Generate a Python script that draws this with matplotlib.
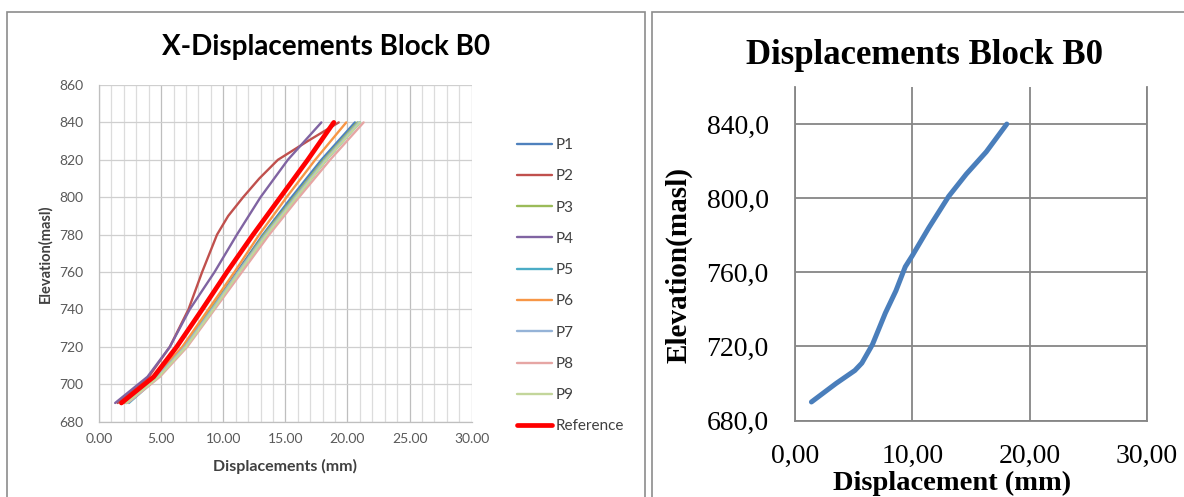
import matplotlib
matplotlib.use("Agg")
import matplotlib.pyplot as plt
from matplotlib.ticker import MultipleLocator, FuncFormatter, FixedLocator
from matplotlib.patches import Rectangle

# ---------------- data ----------------
# Left chart: X-displacements (mm) of each profile against elevation (masl)
elev = [690, 704, 720, 740, 760, 780, 800, 820, 840]
p1 = [2.2, 4.7, 6.9, 9.0, 11.1, 13.2, 15.5, 17.9, 20.6]
p3 = [2.1, 4.6, 6.8, 9.0, 11.2, 13.3, 15.7, 18.1, 20.8]
p4 = [1.3, 3.9, 5.7, 7.3, 9.3, 11.1, 13.0, 15.2, 17.9]
p5 = [2.4, 4.8, 7.0, 9.1, 11.3, 13.5, 15.9, 18.3, 21.0]
p6 = [2.0, 4.5, 6.7, 8.8, 10.9, 12.9, 15.1, 17.4, 19.9]
p7 = [2.2, 4.7, 6.9, 9.1, 11.2, 13.4, 15.8, 18.2, 20.9]
p8 = [2.3, 4.9, 7.1, 9.3, 11.5, 13.7, 16.1, 18.6, 21.3]
p9 = [2.2, 4.8, 7.0, 9.2, 11.3, 13.5, 15.9, 18.3, 21.0]
reference = [1.8, 4.4, 6.25, 8.3, 10.3, 12.4, 14.6, 16.8, 18.9]

# P2 bends more sharply, so it carries its own elevations
elev_p2 = [690, 704, 720, 740, 760, 780, 790, 800, 810, 820, 830, 840]
p2 = [1.5, 4.0, 5.7, 7.2, 8.3, 9.5, 10.4, 11.6, 12.9, 14.4, 16.8, 19.3]

series_names = ["P1", "P2", "P3", "P4", "P5", "P6", "P7", "P8", "P9", "Reference"]
series_colors = ["#4F81BD", "#C0504D", "#9BBB59", "#8064A2", "#4BACC6",
                 "#F79646", "#95B3D7", "#E6A6A4", "#C3D69B", "#FF0000"]

# Right chart: displacement of block B0 against elevation
elev_b0 = [690, 700, 707, 711, 721, 738, 750, 763, 769, 784, 801, 813, 825, 840]
disp_b0 = [1.4, 3.5, 5.1, 5.7, 6.6, 7.7, 8.6, 9.4, 10.0, 11.4, 13.1, 14.6, 16.3, 18.05]

W, H = 1184, 497
fig = plt.figure(figsize=(W / 100, H / 100), dpi=100)
fig.patch.set_facecolor("white")


def fx(px):
    return px / W


def fy(py):
    return 1 - py / H


# panel frames
fig.patches.append(Rectangle((fx(7), fy(520)), fx(645 - 7), fy(12) - fy(520),
                             transform=fig.transFigure, fill=False,
                             edgecolor="#8C8C8C", lw=1.2))
fig.patches.append(Rectangle((fx(652), fy(520)), fx(1200 - 652), fy(12) - fy(520),
                             transform=fig.transFigure, fill=False,
                             edgecolor="#8C8C8C", lw=1.2))

# ---------------- left chart ----------------
ax1 = fig.add_axes([fx(99), fy(421.7), fx(471.7 - 99), fy(85) - fy(421.7)])
ax1.set_xlim(0, 30)
ax1.set_ylim(680, 860)
ax1.xaxis.set_major_locator(MultipleLocator(5))
ax1.xaxis.set_minor_locator(MultipleLocator(1))
ax1.yaxis.set_major_locator(MultipleLocator(20))
ax1.xaxis.set_major_formatter(FuncFormatter(lambda v, p: f"{v:.2f}"))
ax1.yaxis.set_major_formatter(FuncFormatter(lambda v, p: f"{v:.0f}"))
ax1.grid(True, which="minor", axis="x", color="#DCDCDC", lw=0.9)
ax1.grid(True, which="major", axis="x", color="#BEBEBE", lw=0.9)
ax1.grid(True, which="major", axis="y", color="#CFCFCF", lw=0.9)
ax1.set_axisbelow(True)
for s in ["top", "right"]:
    ax1.spines[s].set_visible(False)
for s in ["left", "bottom"]:
    ax1.spines[s].set_color("#BFBFBF")
    ax1.spines[s].set_linewidth(0.9)
ax1.tick_params(which="both", length=0, labelsize=10, labelcolor="#595959")
ax1.tick_params(axis="x", pad=8)
ax1.tick_params(axis="y", pad=11)
for lab in ax1.get_xticklabels() + ax1.get_yticklabels():
    lab.set_fontfamily("Lato")

left_series = [(p1, elev), (p2, elev_p2), (p3, elev), (p4, elev), (p5, elev),
               (p6, elev), (p7, elev), (p8, elev), (p9, elev), (reference, elev)]
handles = []
for (xs, ys), name, col in zip(left_series, series_names, series_colors):
    lw = 3.4 if name == "Reference" else 1.7
    h, = ax1.plot(xs, ys, color=col, lw=lw, label=name,
                  solid_joinstyle="round", solid_capstyle="round")
    handles.append(h)

fig.text(fx(326), fy(47), "X-Displacements Block B0", fontfamily="Lato",
         fontweight="bold", fontsize=20, ha="center", va="center")
ax1.set_xlabel("Displacements (mm)", fontfamily="Lato", fontweight="bold",
               fontsize=11.5, color="#404040")
ax1.xaxis.set_label_coords(0.499, -0.112)
ax1.set_ylabel("Elevation(masl)", fontfamily="Lato", fontweight="bold",
               fontsize=10.5, color="#404040")
ax1.yaxis.set_label_coords(-0.125, 0.50)

fig.legend(handles=handles, labels=series_names, loc="upper left",
           bbox_to_anchor=(fx(517), fy(138)), frameon=False,
           borderpad=0, borderaxespad=0, handlelength=2.3, handletextpad=0.2,
           labelspacing=1.13, prop={"family": "Lato", "size": 11},
           labelcolor="#404040")

# ---------------- right chart ----------------
ax2 = fig.add_axes([fx(795), fy(420.5), fx(1147 - 795), fy(87) - fy(420.5)])
ax2.set_xlim(0, 30)
ax2.set_ylim(680, 860)
ax2.xaxis.set_major_locator(MultipleLocator(10))
ax2.yaxis.set_major_locator(FixedLocator([680, 720, 760, 800, 840]))
ax2.xaxis.set_major_formatter(FuncFormatter(lambda v, p: f"{v:.2f}".replace(".", ",")))
ax2.yaxis.set_major_formatter(FuncFormatter(lambda v, p: f"{v:.1f}".replace(".", ",")))
ax2.grid(True, color="#868686", lw=1.3)
ax2.set_axisbelow(True)
ax2.spines["top"].set_visible(False)
for s in ["left", "bottom", "right"]:
    ax2.spines[s].set_color("#868686")
    ax2.spines[s].set_linewidth(1.3)
ax2.tick_params(length=0, labelsize=20)
ax2.tick_params(axis="x", pad=17)
ax2.tick_params(axis="y", pad=19)
for lab in ax2.get_xticklabels() + ax2.get_yticklabels():
    lab.set_fontfamily("Liberation Serif")

ax2.plot(disp_b0, elev_b0, color="#4A7EBB", lw=3.6,
         solid_joinstyle="round", solid_capstyle="round")

fig.text(fx(924), fy(55), "Displacements Block B0", fontfamily="Liberation Serif",
         fontweight="bold", fontsize=25, ha="center", va="center")
ax2.set_xlabel("Displacement (mm)", fontfamily="Liberation Serif",
               fontweight="bold", fontsize=20.5)
ax2.xaxis.set_label_coords(0.446, -0.152)
ax2.set_ylabel("Elevation(masl)", fontfamily="Liberation Serif",
               fontweight="bold", fontsize=21)
ax2.yaxis.set_label_coords(-0.29, 0.466)

fig.savefig("out.png", dpi=100, facecolor="white")
